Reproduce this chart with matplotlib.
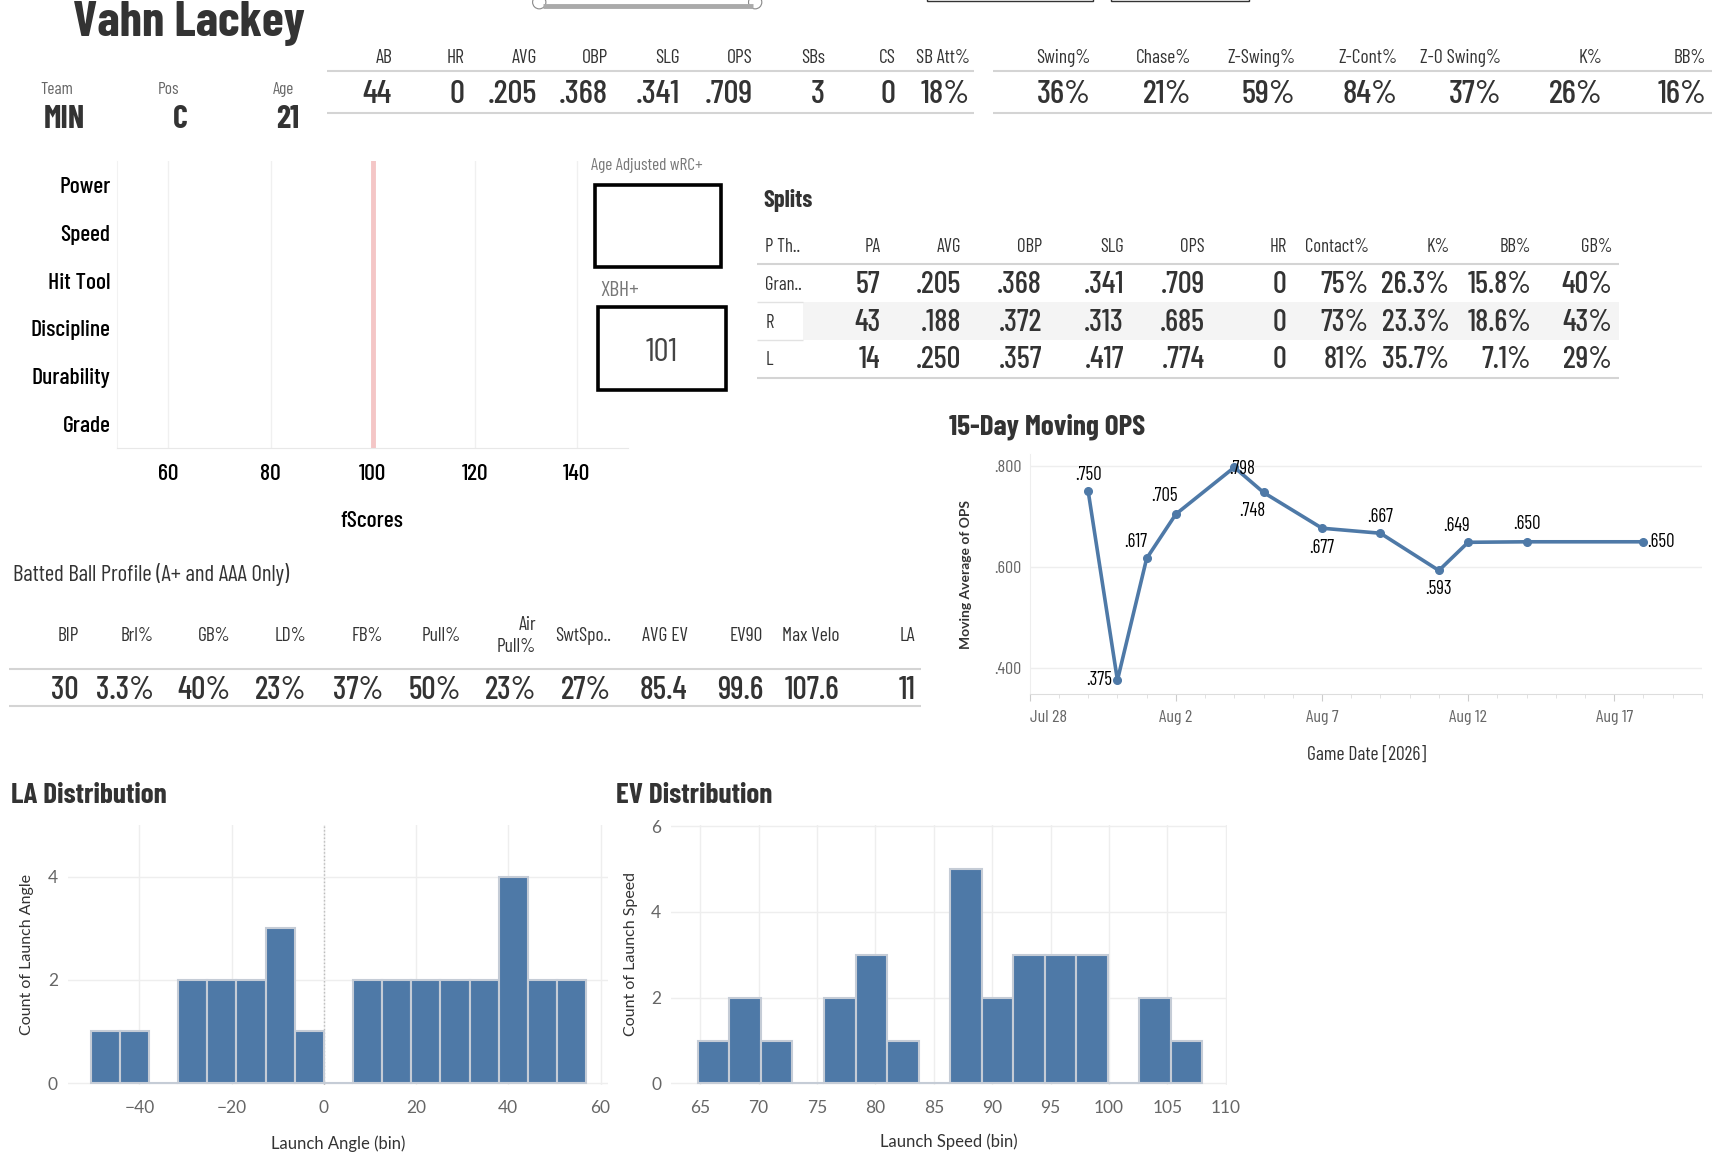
import numpy as np
import pandas as pd
import matplotlib
matplotlib.use('Agg')
import matplotlib.pyplot as plt
import matplotlib.dates as mdates
from matplotlib.patches import Rectangle, Circle
from matplotlib.ticker import FuncFormatter
from matplotlib import font_manager as fm

# ---------------- data ----------------
PLAYER = "Vahn Lackey"
BIO_LABELS = ["Team", "Pos", "Age"]
BIO_VALUES = ["MIN", "C", "21"]

STAT_HEADERS = ["AB", "HR", "AVG", "OBP", "SLG", "OPS", "SBs", "CS", "SB Att%"]
STAT_VALUES = ["44", "0", ".205", ".368", ".341", ".709", "3", "0", "18%"]

DISC_HEADERS = ["Swing%", "Chase%", "Z-Swing%", "Z-Cont%", "Z-O Swing%", "K%", "BB%"]
DISC_VALUES = ["36%", "21%", "59%", "84%", "37%", "26%", "16%"]

FSCORE_CATS = ["Power", "Speed", "Hit Tool", "Discipline", "Durability", "Grade"]
FSCORE_TICKS = [60, 80, 100, 120, 140]
FSCORE_REF = 100
WRC_LABEL = "Age Adjusted wRC+"
WRC_VALUE = ""
XBH_LABEL = "XBH+"
XBH_VALUE = "101"

SPLIT_HEADERS = ["P Th..", "PA", "AVG", "OBP", "SLG", "OPS", "HR", "Contact%", "K%", "BB%", "GB%"]
SPLIT_ROW_NAMES = ["Gran..", "R", "L"]
SPLIT_GRAND = ["57", ".205", ".368", ".341", ".709", "0", "75%", "26.3%", "15.8%", "40%"]
SPLIT_R = ["43", ".188", ".372", ".313", ".685", "0", "73%", "23.3%", "18.6%", "43%"]
SPLIT_L = ["14", ".250", ".357", ".417", ".774", "0", "81%", "35.7%", "7.1%", "29%"]

OPS_DATES = ["2026-07-30", "2026-07-31", "2026-08-01", "2026-08-02", "2026-08-04",
             "2026-08-05", "2026-08-07", "2026-08-09", "2026-08-11", "2026-08-12",
             "2026-08-14", "2026-08-18"]
OPS_VALUES = [0.750, 0.375, 0.617, 0.705, 0.798, 0.748, 0.677, 0.667, 0.593, 0.649, 0.650, 0.650]

BBP_HEADERS = ["BIP", "Brl%", "GB%", "LD%", "FB%", "Pull%", "Air\nPull%", "SwtSpo..",
               "AVG EV", "EV90", "Max Velo", "LA"]
BBP_VALUES = ["30", "3.3%", "40%", "23%", "37%", "50%", "23%", "27%", "85.4", "99.6", "107.6", "11"]

LA_BIN_SIZE = 6.32
LA_BIN_INDEX = list(range(-8, 9))
LA_COUNTS = [1, 1, 0, 2, 2, 2, 3, 1, 0, 2, 2, 2, 2, 2, 4, 2, 2]

EV_BIN_SIZE = 2.7
EV_BIN_INDEX = list(range(24, 40))
EV_COUNTS = [1, 2, 1, 0, 2, 3, 1, 0, 5, 2, 3, 3, 3, 0, 2, 1]

# ---------------- styling ----------------
avail = {f.name for f in fm.fontManager.ttflist}


def pick(cands):
    for c in cands:
        if c in avail:
            return c
    return 'DejaVu Sans'


COND = pick(['Barlow Condensed', 'Archivo Narrow', 'Asap Condensed', 'Liberation Sans Narrow'])
BOOK = pick(['Lato', 'Noto Sans'])
DARK = '#333333'
GRAY = '#666666'
LINE = '#d4d4d4'
GRID = '#eeeeee'
BLUE = '#4e79a7'
EDGE = '#c5ccd6'

W = 1566.0
H = W * 1160.0 / 1734.0


def rect(l, t, r, b):
    return [l / W, 1 - b / H, (r - l) / W, (b - t) / H]


fig = plt.figure(figsize=(17.34, 11.6), dpi=100)
fig.patch.set_facecolor('white')
bg = fig.add_axes([0, 0, 1, 1])
bg.set_xlim(0, W)
bg.set_ylim(H, 0)
bg.axis('off')


def T(x, y, s, size, ha='center', va='center', color=DARK, weight='normal', family=COND, **kw):
    bg.text(x, y + 1.5, s, fontsize=size, ha=ha, va=va, color=color, fontweight=weight,
            family=family, **kw)


def HL(x0, x1, y, color=LINE, lw=1.5):
    bg.plot([x0, x1], [y, y], color=color, lw=lw, solid_capstyle='butt')


# slider + top boxes (cut off at top)
bg.plot([490, 680], [5, 5], color='#aaaaaa', lw=3.5, solid_capstyle='butt')
for cx in (487, 682):
    bg.add_patch(Circle((cx, 2), 6, fc='white', ec='#888888', lw=0.8))
bg.add_patch(Rectangle((837, -20), 150, 21, fc='white', ec=DARK, lw=1))
bg.add_patch(Rectangle((1003, -20), 125, 21, fc='white', ec=DARK, lw=1))

# player header
T(171, 20, PLAYER, 36, weight='bold', color=DARK)
bio_lab_x = [51, 152, 256]
bio_val_x = [58, 163, 260]
for xl, xv, lab, val in zip(bio_lab_x, bio_val_x, BIO_LABELS, BIO_VALUES):
    T(xl, 79, lab, 12.5, color=GRAY)
    T(xv, 106, val, 23, weight='bold', color=DARK)

VW = 500  # value weight

# stat table 1
R1 = [354, 419, 485, 549, 614, 680, 745, 809, 876]
HL(295, 880, 64)
HL(295, 880, 102)
for x, h, v in zip(R1, STAT_HEADERS, STAT_VALUES):
    T(x, 51, h, 14, ha='right')
    T(x, 84, v, 24, ha='right', weight=VW)

# stat table 2
R2 = [985, 1076, 1170, 1262, 1356, 1447, 1541]
HL(897, 1546, 64)
HL(897, 1546, 102)
for x, h, v in zip(R2, DISC_HEADERS, DISC_VALUES):
    T(x, 51, h, 14, ha='right')
    T(x, 84, v, 24, ha='right', weight=VW)

# fScores chart (empty bars, reference at 100)
ax_f = fig.add_axes(rect(106, 145, 567, 405))
ax_f.set_facecolor('none')
ax_f.set_xlim(50, 150)
ax_f.set_ylim(len(FSCORE_CATS) - 0.5, -0.5)
ax_f.set_yticks(range(len(FSCORE_CATS)))
ax_f.set_yticklabels(FSCORE_CATS, family=COND, fontsize=17, color='black', fontweight=VW)
ax_f.set_xticks(FSCORE_TICKS)
ax_f.set_xticklabels([str(t) for t in FSCORE_TICKS], family=COND, fontsize=17, color='black',
                     fontweight=VW)
ax_f.tick_params(length=0)
ax_f.tick_params(axis='y', pad=5)
ax_f.tick_params(axis='x', pad=11)
ax_f.grid(axis='x', color='#f0f0f0', lw=1)
ax_f.set_axisbelow(True)
ax_f.axvline(FSCORE_REF, color='#f4c6c6', lw=3.5)
for sp in ('top', 'right'):
    ax_f.spines[sp].set_visible(False)
ax_f.spines['bottom'].set_color('#e8e8e8')
ax_f.spines['left'].set_color('#f2f2f2')
T(336, 469, "fScores", 17, color='black', weight=VW)

# wRC+ / XBH+ boxes
T(534, 148, WRC_LABEL, 12.5, ha='left', color='#777777')
bg.add_patch(Rectangle((537, 167), 114, 74, fc='none', ec='black', lw=2.6))
T(594, 204, WRC_VALUE, 24, color='#444444')
T(542, 261, XBH_LABEL, 15.5, ha='left', color='#777777')
bg.add_patch(Rectangle((540, 277), 116, 75, fc='none', ec='black', lw=2.6))
T(598, 317, XBH_VALUE, 24, color='#444444')

# Splits table
T(689, 180, "Splits", 17.5, ha='left', weight='bold')
SR = [None, 795, 868, 941, 1015, 1088, 1162, 1236, 1309, 1383, 1456]
row_y = [256, 290, 324]
bg.add_patch(Rectangle((725, 273), 1462 - 725, 34, fc='#f4f4f4', ec='none'))
HL(684, 1462, 238)
HL(684, 725, 273, color='#e2e2e2', lw=1)
HL(684, 725, 307, color='#e2e2e2', lw=1)
HL(684, 1462, 341)
for i, h in enumerate(SPLIT_HEADERS):
    if SR[i] is None:
        T(691, 222, h, 13.5, ha='left')
    else:
        T(SR[i], 222, h, 13.5, ha='right')
for y, name, vals in zip(row_y, SPLIT_ROW_NAMES, [SPLIT_GRAND, SPLIT_R, SPLIT_L]):
    T(691, y, name, 13.5, ha='left')
    for x, v in zip(SR[1:], vals):
        T(x, y, v, 22, ha='right', weight=VW)

# 15-Day Moving OPS
T(857, 384, "15-Day Moving OPS", 21, ha='left', weight='bold')
ax_o = fig.add_axes(rect(930, 410, 1537, 627))
ax_o.set_facecolor('none')
dates = pd.to_datetime(OPS_DATES)
ax_o.plot(dates, OPS_VALUES, color=BLUE, lw=2.6, marker='o', ms=5.5, zorder=3)
ax_o.set_xlim(pd.Timestamp("2026-07-28"), pd.Timestamp("2026-08-20"))
ax_o.set_ylim(0.347, 0.8245)
ax_o.set_yticks([0.4, 0.6, 0.8])
ax_o.yaxis.set_major_formatter(FuncFormatter(lambda v, p: f"{v:.3f}".lstrip('0')))
major = pd.to_datetime(["2026-07-28", "2026-08-02", "2026-08-07", "2026-08-12", "2026-08-17"])
ax_o.set_xticks(major)
ax_o.set_xticklabels([d.strftime('%b ') + str(d.day) for d in major])
ax_o.xaxis.set_minor_locator(mdates.DayLocator())
for lab in ax_o.get_xticklabels() + ax_o.get_yticklabels():
    lab.set_family(COND)
    lab.set_fontsize(13)
    lab.set_color(GRAY)
ax_o.get_xticklabels()[0].set_horizontalalignment('left')
ax_o.tick_params(axis='x', which='major', length=5, color='#cccccc', pad=6)
ax_o.tick_params(axis='x', which='minor', length=3, color='#dddddd')
ax_o.tick_params(axis='y', length=0, pad=6)
ax_o.grid(axis='y', color=GRID, lw=1)
for sp in ('top', 'right'):
    ax_o.spines[sp].set_visible(False)
ax_o.spines['bottom'].set_color('#dddddd')
ax_o.spines['left'].set_color('#eeeeee')
LABEL_OFFSETS = [(0, 12), (-13, 0), (-8, 12), (-8, 13), (6, -1), (-8, -13),
                 (0, -14), (0, 12), (0, -13), (-8, 12), (0, 13), (13, 0)]
for d, v, off in zip(dates, OPS_VALUES, LABEL_OFFSETS):
    ax_o.annotate(f"{v:.3f}".lstrip('0'), (d, v), xytext=off, textcoords='offset points',
                  ha='center', va='center', fontsize=13.5, family=COND, color='black', zorder=4)
bg.text(872, 519, "Moving Average of OPS", rotation=90, fontsize=10, ha='center', va='center',
        color=DARK, family=BOOK, fontweight='bold')
T(1234, 680, "Game Date [2026]", 14)

# Batted ball profile
T(12, 517, "Batted Ball Profile (A+ and AAA Only)", 16.5, ha='left')
BR = [71, 139, 208, 277, 346, 416, 484, 552, 621, 689, 758, 827]
HL(8, 832, 604)
HL(8, 832, 638)
for x, h, v in zip(BR, BBP_HEADERS, BBP_VALUES):
    T(x, 573, h, 14, ha='right', linespacing=1.3)
    T(x, 622, v, 23, ha='right', weight=VW)


def style_hist(ax, xticks, yticks):
    ax.set_facecolor('none')
    ax.set_xticks(xticks)
    ax.set_yticks(yticks)
    for lab in ax.get_xticklabels() + ax.get_yticklabels():
        lab.set_family(BOOK)
        lab.set_fontsize(12.5)
        lab.set_color(GRAY)
    ax.tick_params(length=0)
    ax.tick_params(axis='x', pad=11)
    ax.tick_params(axis='y', pad=7)
    ax.grid(True, color=GRID, lw=1)
    ax.set_axisbelow(True)
    for sp in ax.spines.values():
        sp.set_visible(False)


# LA distribution
T(10, 717, "LA Distribution", 21, ha='left', weight='bold')
ax_la = fig.add_axes(rect(61, 745, 549, 980))
la_left = [i * LA_BIN_SIZE for i in LA_BIN_INDEX]
ax_la.bar(la_left, LA_COUNTS, width=LA_BIN_SIZE, align='edge', color=BLUE,
          edgecolor=EDGE, lw=1.5, zorder=3)
ax_la.set_xlim(-55.6, 61.6)
ax_la.set_ylim(-0.04, 5.0)
style_hist(ax_la, [-40, -20, 0, 20, 40, 60], [0, 2, 4])
ax_la.axvline(0, color='#bbbbbb', ls=':', lw=1, zorder=2)
bg.text(24, 862, "Count of Launch Angle", rotation=90, fontsize=11.5, ha='center', va='center',
        color=DARK, family=BOOK)
bg.text(305, 1033, "Launch Angle (bin)", fontsize=12, ha='center', va='center',
        color=DARK, family=BOOK)

# EV distribution
T(556, 717, "EV Distribution", 21, ha='left', weight='bold')
ax_ev = fig.add_axes(rect(606, 745, 1108, 980))
ev_left = [i * EV_BIN_SIZE for i in EV_BIN_INDEX]
ax_ev.bar(ev_left, EV_COUNTS, width=EV_BIN_SIZE, align='edge', color=BLUE,
          edgecolor=EDGE, lw=1.5, zorder=3)
ax_ev.set_xlim(62.5, 110.1)
ax_ev.set_ylim(-0.04, 6.03)
style_hist(ax_ev, [65, 70, 75, 80, 85, 90, 95, 100, 105, 110], [0, 2, 4, 6])
bg.text(570, 862, "Count of Launch Speed", rotation=90, fontsize=11.5, ha='center', va='center',
        color=DARK, family=BOOK)
bg.text(857, 1031, "Launch Speed (bin)", fontsize=12, ha='center', va='center',
        color=DARK, family=BOOK)

fig.savefig('out.png', dpi=100, facecolor='white')
